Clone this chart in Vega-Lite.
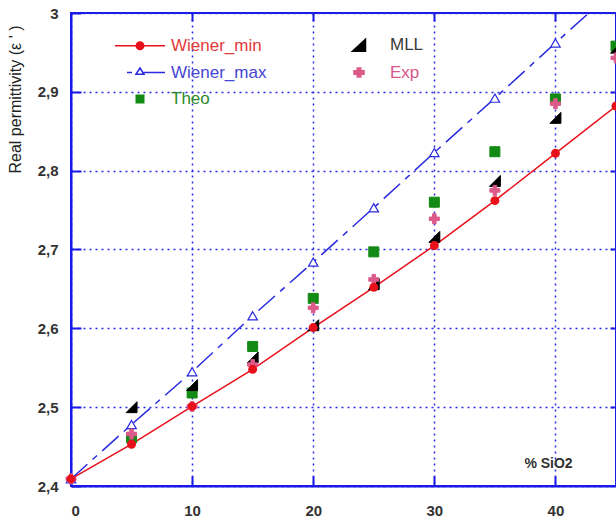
{
  "$schema": "https://vega.github.io/schema/vega-lite/v6.json",
  "width": 545,
  "height": 473,
  "autosize": {"type": "none"},
  "padding": {"left": 71, "top": 13, "right": 0, "bottom": 39},
  "background": "white",
  "config": {"view": {"stroke": "#1a1ae6", "strokeWidth": 2}, "font": "Liberation Sans"},
  "data": {
    "values": [
      {"x": 0, "series": "Wiener_min", "value": 2.409},
      {"x": 5, "series": "Wiener_min", "value": 2.453},
      {"x": 10, "series": "Wiener_min", "value": 2.501},
      {"x": 15, "series": "Wiener_min", "value": 2.548},
      {"x": 20, "series": "Wiener_min", "value": 2.601},
      {"x": 25, "series": "Wiener_min", "value": 2.652},
      {"x": 30, "series": "Wiener_min", "value": 2.705},
      {"x": 35, "series": "Wiener_min", "value": 2.762},
      {"x": 40, "series": "Wiener_min", "value": 2.822},
      {"x": 45, "series": "Wiener_min", "value": 2.882},
      {"x": 0, "series": "Wiener_max", "value": 2.409},
      {"x": 5, "series": "Wiener_max", "value": 2.478},
      {"x": 10, "series": "Wiener_max", "value": 2.545},
      {"x": 15, "series": "Wiener_max", "value": 2.616},
      {"x": 20, "series": "Wiener_max", "value": 2.684},
      {"x": 25, "series": "Wiener_max", "value": 2.753},
      {"x": 30, "series": "Wiener_max", "value": 2.823},
      {"x": 35, "series": "Wiener_max", "value": 2.892},
      {"x": 40, "series": "Wiener_max", "value": 2.962},
      {"x": 45, "series": "Wiener_max", "value": 3.031},
      {"x": 5, "series": "Theo", "value": 2.461},
      {"x": 10, "series": "Theo", "value": 2.518},
      {"x": 15, "series": "Theo", "value": 2.577},
      {"x": 20, "series": "Theo", "value": 2.638},
      {"x": 25, "series": "Theo", "value": 2.697},
      {"x": 30, "series": "Theo", "value": 2.76},
      {"x": 35, "series": "Theo", "value": 2.824},
      {"x": 40, "series": "Theo", "value": 2.891},
      {"x": 45, "series": "Theo", "value": 2.958},
      {"x": 5, "series": "MLL", "value": 2.5},
      {"x": 10, "series": "MLL", "value": 2.528},
      {"x": 15, "series": "MLL", "value": 2.563},
      {"x": 20, "series": "MLL", "value": 2.604},
      {"x": 25, "series": "MLL", "value": 2.656},
      {"x": 30, "series": "MLL", "value": 2.716},
      {"x": 35, "series": "MLL", "value": 2.787},
      {"x": 40, "series": "MLL", "value": 2.867},
      {"x": 45, "series": "MLL", "value": 2.956},
      {"x": 0, "series": "Exp", "value": 2.409},
      {"x": 5, "series": "Exp", "value": 2.466},
      {"x": 10, "series": "Exp", "value": 2.501},
      {"x": 15, "series": "Exp", "value": 2.554},
      {"x": 20, "series": "Exp", "value": 2.626},
      {"x": 25, "series": "Exp", "value": 2.662},
      {"x": 30, "series": "Exp", "value": 2.739},
      {"x": 35, "series": "Exp", "value": 2.775},
      {"x": 40, "series": "Exp", "value": 2.885},
      {"x": 45, "series": "Exp", "value": 2.943}
    ]
  },
  "resolve": {"axis": {"x": "independent", "y": "independent"}},
  "encoding": {
    "x": {"field": "x", "type": "quantitative", "scale": {"domain": [0, 45], "nice": false, "zero": false}, "axis": null},
    "y": {"field": "value", "type": "quantitative", "scale": {"domain": [2.4, 3], "nice": false, "zero": false}, "axis": null}
  },
  "layer": [
    {
      "transform": [{"filter": "datum.series === 'Wiener_min'"}],
      "mark": {"type": "line", "stroke": "#e8101a", "strokeWidth": 1.5},
      "encoding": {
        "x": {"field": "x", "type": "quantitative", "scale": {"domain": [0, 45], "nice": false, "zero": false},
          "axis": {"orient": "bottom", "values": [0, 10, 20, 30, 40], "grid": true, "gridColor": "#2a2ae6", "gridDash": [2, 4], "gridWidth": 1.5,
            "domainColor": "#1a1ae6", "domainWidth": 2, "ticks": true, "tickColor": "#1a1ae6", "tickWidth": 2, "tickSize": -10, "labelPadding": 27,
            "labelFont": "Liberation Sans", "labelFontSize": 15, "labelFontWeight": "bold", "labelColor": "#333333",
            "title": "% SiO2", "titleX": 477, "titleY": -23, "titleAlign": "center", "titleBaseline": "middle", "titleAngle": 0,
            "titleFont": "Liberation Sans", "titleFontSize": 14, "titleFontWeight": "bold", "titleColor": "#333333"}},
        "y": {"field": "value", "type": "quantitative", "scale": {"domain": [2.4, 3], "nice": false, "zero": false},
          "axis": {"orient": "left", "values": [2.4, 2.5, 2.6, 2.7, 2.8, 2.9, 3], "labelExpr": "replace(format(datum.value, '.1~f'), '.', ',')",
            "grid": true, "gridColor": "#2a2ae6", "gridDash": [2, 4], "gridWidth": 1.5,
            "domainColor": "#1a1ae6", "domainWidth": 2, "ticks": true, "tickColor": "#1a1ae6", "tickWidth": 2, "tickSize": -10, "labelPadding": 23,
            "labelFont": "Liberation Sans", "labelFontSize": 15, "labelFontWeight": "bold", "labelColor": "#333333",
            "title": "Real permittivity (ε ' )", "titleAngle": -90, "titleX": -56, "titleY": 86, "titleAlign": "center", "titleBaseline": "middle",
            "titleFont": "Liberation Sans", "titleFontSize": 16, "titleFontWeight": "normal", "titleColor": "#222222"}}
      }
    },
    {
      "transform": [{"filter": "datum.series === 'Wiener_max'"}],
      "mark": {"type": "line", "stroke": "#2a2ae0", "strokeWidth": 1.5, "strokeDash": [22, 7, 6, 7], "clip": true},
      "encoding": {
        "x": {"field": "x", "type": "quantitative", "scale": {"domain": [0, 45], "nice": false, "zero": false},
          "axis": {"orient": "top", "values": [10, 20, 30, 40], "labels": false, "grid": false, "domain": false,
            "ticks": true, "tickColor": "#1a1ae6", "tickWidth": 2, "tickSize": -8, "title": null}},
        "y": {"field": "value", "type": "quantitative", "scale": {"domain": [2.4, 3], "nice": false, "zero": false},
          "axis": {"orient": "right", "values": [2.5, 2.6, 2.7, 2.8, 2.9], "labels": false, "grid": false, "domain": false,
            "ticks": true, "tickColor": "#1a1ae6", "tickWidth": 2, "tickSize": -6, "title": null}}
      }
    },
    {
      "transform": [{"filter": "datum.series === 'Wiener_max' && datum.x < 45"}],
      "mark": {"type": "point", "shape": "triangle-up", "size": 90, "filled": true, "fill": "#ffffff", "stroke": "#2a2ae0", "opacity": 1, "strokeWidth": 1.2}
    },
    {
      "transform": [{"filter": "datum.series === 'Theo'"}],
      "mark": {"type": "point", "shape": "square", "size": 100, "filled": true, "fill": "#138a13", "stroke": "#138a13", "opacity": 1, "strokeWidth": 1}
    },
    {
      "transform": [{"filter": "datum.series === 'MLL'"}],
      "mark": {"type": "point", "shape": "M1,-1V1H-1Z", "size": 120, "filled": true, "fill": "#000000", "stroke": "#000000", "opacity": 1, "strokeWidth": 1}
    },
    {
      "transform": [{"filter": "datum.series === 'Exp'"}],
      "mark": {"type": "point", "shape": "M-0.35,-1H0.35V-0.35H1V0.35H0.35V1H-0.35V0.35H-1V-0.35H-0.35Z", "size": 100, "filled": true, "fill": "#dc5a8a", "stroke": "#dc5a8a", "opacity": 1, "strokeWidth": 1}
    },
    {
      "transform": [{"filter": "datum.series === 'Wiener_min'"}],
      "mark": {"type": "point", "shape": "circle", "size": 80, "filled": true, "opacity": 1},
      "encoding": {
        "fill": {"field": "series", "type": "nominal",
          "scale": {"domain": ["Wiener_min", "Wiener_max", "Theo", "MLL", "Exp"], "range": ["#e8101a", "#ffffff", "#138a13", "#000000", "#dc5a8a"]},
          "legend": {
            "title": null, "orient": "none", "legendX": 60.5, "legendY": 23.5, "direction": "vertical", "columns": 2,
            "columnPadding": 64, "rowPadding": 8.5, "padding": 0,
            "labelFont": "Liberation Sans", "labelFontSize": 17, "labelOffset": 22.5, "symbolOffset": 0,
            "symbolSize": 100, "symbolStrokeWidth": 1.5, "symbolOpacity": 1,
            "symbolType": {"expr": "datum.value === 'Wiener_min' ? 'M-5,0H5M-0.75,0A0.75,0.75,0,1,1,0.75,0A0.75,0.75,0,1,1,-0.75,0Z' : datum.value === 'Wiener_max' ? 'M-5,0h0.001M-2.6,0H-1.6M0.6,0H5M-0.8,0.35L0,-0.9L0.8,0.35Z' : datum.value === 'Theo' ? 'M-5,0h0.001M-0.75,-0.75H0.75V0.75H-0.75Z' : datum.value === 'MLL' ? 'M-5,0h0.001M1.3,-1.2V1.2H-1.3Z' : 'M-5,0h0.001M-0.35,-0.9H0.35V-0.35H1V0.35H0.35V0.9H-0.35V0.35H-1V-0.35H-0.35Z'"},
            "symbolStrokeColor": {"expr": "datum.value === 'Wiener_min' ? '#e8101a' : datum.value === 'Wiener_max' ? '#2a2ae0' : datum.value === 'Theo' ? '#138a13' : datum.value === 'MLL' ? '#000000' : '#dc5a8a'"},
            "labelColor": {"expr": "datum.value === 'Wiener_min' ? '#e23a3a' : datum.value === 'Wiener_max' ? '#4646d2' : datum.value === 'Theo' ? '#2a8a2a' : datum.value === 'MLL' ? '#3a3a3a' : '#d9558a'"}
          }
        }
      }
    }
  ]
}
